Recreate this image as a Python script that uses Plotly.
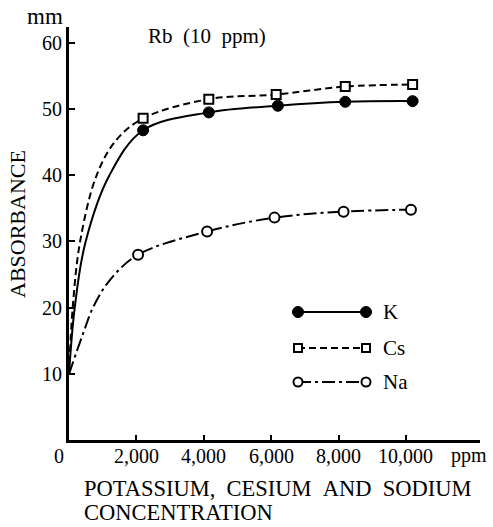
import plotly.graph_objects as go

# ---- data ----
K_x = [2200, 4150, 6200, 8200, 10200]
K_y = [46.8, 49.5, 50.5, 51.1, 51.2]
Cs_x = [2200, 4150, 6150, 8200, 10200]
Cs_y = [48.6, 51.5, 52.2, 53.4, 53.7]
Na_x = [2050, 4100, 6100, 8150, 10150]
Na_y = [28.0, 31.5, 33.6, 34.5, 34.8]

K_rise_x = [0, 170, 480, 1200]
K_rise_y = [10, 20.0, 29.7, 40.0]
Cs_rise_x = [0, 110, 330, 820, 1400]
Cs_rise_y = [10, 20.0, 30.0, 40.0, 45.3]
Na_rise_x = [0, 420, 720, 1220]
Na_rise_y = [10, 16.1, 20.1, 24.2]

x_ticks = [2000, 4000, 6000, 8000, 10000]
x_tick_text = ["2,000", "4,000", "6,000", "8,000", "10,000"]
y_ticks = [10, 20, 30, 40, 50, 60]

FONT = "Liberation Serif"
BLACK = "black"

# plot area in page pixels
PX_L, PX_R, PX_T, PX_B = 69, 480, 27, 440


def px(xp, yp):
    return (xp - PX_L) / (PX_R - PX_L), (PX_B - yp) / (PX_B - PX_T)


fig = go.Figure()

series = [
    ("K", K_rise_x, K_rise_y, K_x, K_y, "solid",
     dict(symbol="circle", size=11, color=BLACK, line=dict(color=BLACK, width=1))),
    ("Cs", Cs_rise_x, Cs_rise_y, Cs_x, Cs_y, "7px,4px",
     dict(symbol="square", size=9, color="white", line=dict(color=BLACK, width=2))),
    ("Na", Na_rise_x, Na_rise_y, Na_x, Na_y, "13px,4px,3px,4px",
     dict(symbol="circle", size=10, color="white", line=dict(color=BLACK, width=2))),
]

for name, rx, ry, mx, my, dash, mk in series:
    fig.add_trace(go.Scatter(
        x=rx + mx, y=ry + my, mode="lines",
        line=dict(color=BLACK, width=2, dash=dash, shape="spline", smoothing=1.0),
        showlegend=False, hoverinfo="skip"))
    fig.add_trace(go.Scatter(
        x=mx, y=my, mode="markers", marker=mk, name=name, showlegend=False))

# ---- hand drawn legend on an overlay axis measured in page pixels ----
legend_rows = [("K", 312), ("Cs", 348), ("Na", 382)]
for (name, ypx), (_, _, _, _, _, dash, mk) in zip(legend_rows, series):
    fig.add_trace(go.Scatter(
        x=[298, 366], y=[ypx, ypx], mode="lines+markers",
        line=dict(color=BLACK, width=2, dash=dash),
        marker=mk if name == "K" else dict(mk, size=mk["size"] - 1),
        xaxis="x2", yaxis="y2", showlegend=False, hoverinfo="skip"))

texts = [(n, 381, ypx, "left", 21, 0) for n, ypx in legend_rows] + [
    ("mm", 45, 17, "center", 23, 0),
    ("Rb\u00a0\u00a0(10\u00a0\u00a0ppm)", 146, 36, "left", 21, 0),
    ("0", 59, 456, "center", 20, 0),
    ("ppm", 449, 455, "left", 20, 0),
    ("POTASSIUM,\u00a0\u00a0CESIUM\u00a0\u00a0AND\u00a0\u00a0SODIUM", 82, 488, "left", 22.5, 0),
    ("CONCENTRATION", 82, 512, "left", 22.5, 0),
    ("ABSORBANCE", 17, 224, "center", 22, -90),
]
annotations = []
for t, xp, yp, anchor, size, ang in texts:
    xx, yy = px(xp, yp)
    annotations.append(dict(
        text=t, x=xx, y=yy, xref="paper", yref="paper", xanchor=anchor,
        yanchor="middle", textangle=ang, showarrow=False,
        font=dict(family=FONT, color=BLACK, size=size)))

# x tick labels placed at the tick values, just below the axis
_, tick_label_y = px(0, 456)
for v, t in zip(x_ticks, x_tick_text):
    annotations.append(dict(
        text=t, x=v, y=tick_label_y, xref="x", yref="paper", xanchor="center",
        yanchor="middle", showarrow=False,
        font=dict(family=FONT, color=BLACK, size=20)))

fig.update_layout(
    width=493, height=527,
    margin=dict(l=PX_L, r=493 - PX_R, t=PX_T, b=527 - PX_B),
    paper_bgcolor="white", plot_bgcolor="white",
    font=dict(family=FONT, color=BLACK, size=20),
    xaxis=dict(range=[0, 12200], tickvals=x_ticks, showticklabels=False,
               ticks="inside", ticklen=5, tickwidth=2, tickcolor=BLACK,
               showline=True, linewidth=3, linecolor=BLACK,
               showgrid=False, zeroline=False, fixedrange=True),
    yaxis=dict(range=[0, 62.4], tickvals=y_ticks,
               ticks="inside", ticklen=6, tickwidth=2, tickcolor=BLACK,
               showline=True, linewidth=3, linecolor=BLACK,
               showgrid=False, zeroline=False, fixedrange=True),
    xaxis2=dict(overlaying="x", range=[PX_L, PX_R], visible=False, fixedrange=True),
    yaxis2=dict(overlaying="y", range=[PX_B, PX_T], visible=False, fixedrange=True),
    annotations=annotations,
    showlegend=False,
)

fig.write_html("out.html")
